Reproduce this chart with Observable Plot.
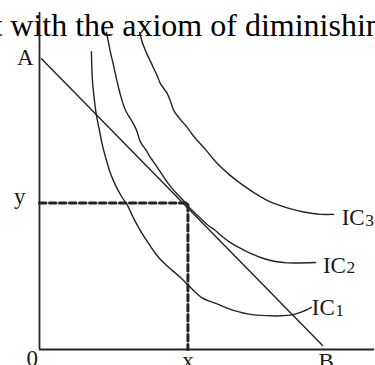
<!DOCTYPE html>
<html><head><meta charset="utf-8">
<script src="https://cdn.jsdelivr.net/npm/d3@7"></script>
<script src="https://cdn.jsdelivr.net/npm/@observablehq/plot@0.6"></script>
<style>
html,body{margin:0;padding:0;background:#fff;overflow:hidden;width:375px;height:365px}
</style></head><body><div id="chart"></div>
<script>
// Heading fragment (cropped in the source)
const heading = "t with the axiom of diminishing";

// Budget line AB (quantity of good X, good Y), arbitrary 0-100 units
const budgetX = [0.6, 84.5];
const budgetY = [86.3, 1.2];

// Consumer optimum (tangency with IC2)
const optimumX = 44.3;
const optimumY = 43.5;

// Indifference curves
const ic1X = [15.5,15.8,16.4,17.0,17.9,18.8,20.0,21.2,22.7,24.5,26.3,28.1,30.1,32.2,34.6,37.0,39.7,42.4,44.2,46.3,48.4,52.8,57.9,61.5,64.8,74.9,77.9,81.2];
const ic1Y = [88.4,79.8,73.9,69.4,65.0,60.5,56.1,52.2,48.7,45.4,42.7,38.9,35.3,32.0,28.5,25.8,23.4,21.1,19.3,17.2,15.4,13.6,11.6,10.7,10.2,10.2,11.0,12.5];

const ic2X = [20.0,20.6,21.2,22.1,23.1,24.2,25.7,27.8,29.0,30.1,31.9,33.1,35.2,37.0,39.1,41.2,42.7,44.2,46.0,48.1,50.4,52.5,54.6,57.0,60.0,63.0,66.9,70.4,74.0,82.4];
const ic2Y = [94.1,91.1,88.1,84.3,79.8,75.4,70.9,67.4,65.0,61.7,59.0,57.0,54.0,51.3,48.4,46.0,44.5,42.7,40.9,38.9,36.8,35.3,33.5,31.7,30.0,28.5,27.0,26.1,25.7,25.8];

const ic3X = [29.9,30.7,31.9,33.4,35.1,36.1,38.1,39.1,40.1,42.1,44.1,45.4,47.1,49.6,52.0,54.3,57.0,60.0,63.9,67.5,71.9,75.8,78.8,83.9,87.8];
const ic3Y = [94.1,91.1,88.1,84.9,81.3,78.9,76.0,73.6,70.9,68.2,65.9,64.1,62.0,59.3,56.4,54.0,51.6,49.3,46.6,44.5,42.7,41.5,40.8,40.1,40.1];

// Curve labels
const icNames = ["IC", "IC", "IC"];
const icSubs = ["1", "2", "3"];
const icLabelX = [81.3, 84.6, 90.2];
const icLabelY = [10.1, 22.8, 36.8];

// Axis labels
const originLabel = "0";
const xLabel = "x";
const yLabel = "y";
const startLabel = "A";
const endLabel = "B";

const toRows = (xs, ys) => xs.map((x, i) => ({x, y: ys[i]}));
const budget = toRows(budgetX, budgetY);
const curves = [toRows(ic1X, ic1Y), toRows(ic2X, ic2Y), toRows(ic3X, ic3Y)];
const dashed = [{x: 0, y: optimumY}, {x: optimumX, y: optimumY}, {x: optimumX, y: 0}];
const icLabels = icNames.map((n, i) => ({name: n, sub: icSubs[i], x: icLabelX[i], y: icLabelY[i]}));

const ink = "#232323";
const serif = "Liberation Serif, Times New Roman, serif";

const chart = Plot.plot({
  width: 375,
  height: 365,
  marginLeft: 39,
  marginRight: 1,
  marginTop: 12,
  marginBottom: 16,
  x: {domain: [0, 100], axis: null},
  y: {domain: [0, 100], axis: null},
  marks: [
    Plot.text([heading], {frameAnchor: "top-left", dx: -46.1, dy: 23, lineAnchor: "bottom", textAnchor: "start", fontSize: 32, fontFamily: serif, fill: "#000"}),
    Plot.ruleX([0], {y1: 0, y2: 100, stroke: ink, strokeWidth: 1.8}),
    Plot.ruleY([0], {x1: 0, x2: 100, stroke: ink, strokeWidth: 1.8}),
    ...curves.map(c => Plot.line(c, {x: "x", y: "y", stroke: ink, strokeWidth: 1.4, curve: "catmull-rom"})),
    Plot.line(budget, {x: "x", y: "y", stroke: ink, strokeWidth: 1.4}),
    Plot.line(dashed, {x: "x", y: "y", stroke: ink, strokeWidth: 3, strokeDasharray: "6.5,3.5"}),
    Plot.text(icLabels, {x: "x", y: "y", text: "name", textAnchor: "start", lineAnchor: "bottom", fontSize: 23, fontFamily: serif, fill: "#1a1a1a"}),
    Plot.text(icLabels, {x: "x", y: "y", text: "sub", dx: 23.5, dy: 0.5, textAnchor: "start", lineAnchor: "bottom", fontSize: 17.5, fontFamily: serif, fill: "#1a1a1a"}),
    Plot.text([startLabel], {x: budgetX[0], y: budgetY[0], dx: -8, dy: 6.5, textAnchor: "end", lineAnchor: "bottom", fontSize: 23, fontFamily: serif, fill: "#1a1a1a"}),
    Plot.text([endLabel], {x: budgetX[1], y: 0, dx: 3.5, dy: 19.5, textAnchor: "middle", lineAnchor: "bottom", fontSize: 23, fontFamily: serif, fill: "#1a1a1a"}),
    Plot.text([originLabel], {x: 0, y: 0, dx: -1.5, dy: 16, textAnchor: "end", lineAnchor: "bottom", fontSize: 23, fontFamily: serif, fill: "#1a1a1a"}),
    Plot.text([xLabel], {x: optimumX, y: 0, dy: 18, textAnchor: "middle", lineAnchor: "bottom", fontSize: 23, fontFamily: serif, fill: "#1a1a1a"}),
    Plot.text([yLabel], {x: 0, y: optimumY, dx: -14, dy: 1, textAnchor: "end", lineAnchor: "bottom", fontSize: 23, fontFamily: serif, fill: "#1a1a1a"})
  ]
});
chart.style.overflow = "hidden";
document.getElementById("chart").appendChild(chart);
</script>
</body></html>
